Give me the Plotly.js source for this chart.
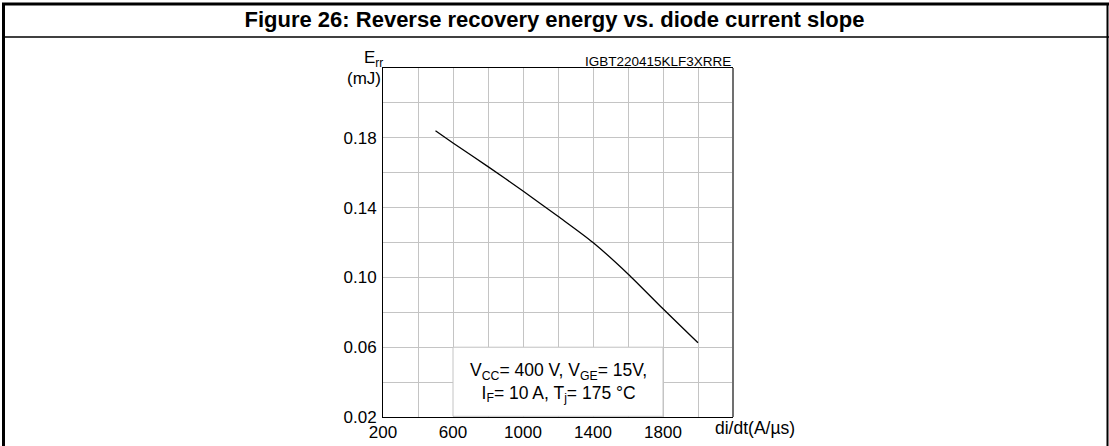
<!DOCTYPE html>
<html>
<head>
<meta charset="utf-8">
<script src="https://cdn.plot.ly/plotly-3.0.1.min.js"></script>
<style>
html,body{margin:0;padding:0;background:#fff;}
#chart{width:1109px;height:446px;}
</style>
</head>
<body>
<div id="chart"></div>
<script>
// Data
const diDt = [500, 600, 800, 1000, 1200, 1400, 1600, 1800, 2000];      // A/µs
const err  = [0.184, 0.177, 0.1635, 0.1495, 0.135, 0.120, 0.102, 0.082, 0.0625]; // mJ

const xTickVals = [200, 400, 600, 800, 1000, 1200, 1400, 1600, 1800, 2000];
const xTickText = ['200', ' ', '600', ' ', '1000', ' ', '1400', ' ', '1800', ' '];
const yTickVals = [0.02, 0.04, 0.06, 0.08, 0.10, 0.12, 0.14, 0.16, 0.18, 0.20];
const yTickText = ['0.02', ' ', '0.06', ' ', '0.10', ' ', '0.14', ' ', '0.18', ' '];

const titleText = 'Figure 26: Reverse recovery energy vs. diode current slope';
const codeText = 'IGBT220415KLF3XRRE';
const condText = 'V<sub>CC</sub>= 400 V, V<sub>GE</sub>= 15V,<br>I<sub>F</sub>= 10 A, T<sub>j</sub>= 175 °C';

const W = 1109, H = 446;
const L = 383, R = 733, T = 68, B = 417;
const px = x => (x - L) / (R - L);
const py = y => (B - y) / (B - T);

const font = 'Arial, "Liberation Sans", sans-serif';
const grid = '#c4c4c4';

const trace = {
  x: diDt, y: err, type: 'scatter', mode: 'lines',
  line: {color: '#000', width: 1.3, shape: 'spline', smoothing: 0.8},
  hoverinfo: 'skip'
};

const layout = {
  width: W, height: H,
  margin: {l: L, r: W - R, t: T, b: H - B, pad: 0},
  paper_bgcolor: '#fff', plot_bgcolor: '#fff',
  showlegend: false,
  font: {family: font, size: 17, color: '#000'},
  title: {
    text: '<b>' + titleText + '</b>',
    font: {family: font, size: 22, color: '#000'},
    x: 0.5, xref: 'container', xanchor: 'center',
    y: 1 - 19 / H, yref: 'container', yanchor: 'middle'
  },
  xaxis: {
    range: [200, 2200], tickmode: 'array', tickvals: xTickVals, ticktext: xTickText,
    showgrid: true, gridcolor: grid, gridwidth: 1, zeroline: false,
    showline: true, linecolor: '#000', linewidth: 1, mirror: true,
    ticks: '', tickfont: {family: font, size: 17, color: '#000'}, fixedrange: true
  },
  yaxis: {
    range: [0.02, 0.22], tickmode: 'array', tickvals: yTickVals, ticktext: yTickText,
    showgrid: true, gridcolor: grid, gridwidth: 1, zeroline: false,
    showline: true, linecolor: '#000', linewidth: 1,
    ticks: '', ticklabelstandoff: 2, tickfont: {family: font, size: 17, color: '#000'}, fixedrange: true
  },
  shapes: [
    {type: 'line', xref: 'paper', yref: 'paper', x0: 1, x1: 1, y0: 0, y1: 1,
     line: {color: '#707070', width: 2}},
    {type: 'rect', xref: 'x', yref: 'y', x0: 600, x1: 1800, y0: 0.0204, y1: 0.06,
     fillcolor: '#fff', line: {color: grid, width: 1}, layer: 'above'},
    {type: 'line', xref: 'paper', yref: 'paper', x0: px(2), x1: px(1109), y0: py(4), y1: py(4),
     line: {color: '#000', width: 3}},
    {type: 'line', xref: 'paper', yref: 'paper', x0: px(3.5), x1: px(3.5), y0: py(3), y1: py(446),
     line: {color: '#000', width: 3}},
    {type: 'line', xref: 'paper', yref: 'paper', x0: px(1107.5), x1: px(1107.5), y0: py(3), y1: py(446),
     line: {color: '#000', width: 2}},
    {type: 'line', xref: 'paper', yref: 'paper', x0: px(3), x1: px(1109), y0: py(37), y1: py(37),
     line: {color: '#000', width: 1.5}}
  ],
  annotations: [
    {text: codeText, xref: 'paper', yref: 'paper', x: 1, y: 1, xanchor: 'right', yanchor: 'bottom',
     showarrow: false, font: {family: font, size: 13.5, color: '#000'}, yshift: -3},
    {text: 'E<sub>rr</sub>', xref: 'paper', yref: 'paper', x: 0, y: 1, xanchor: 'right', yanchor: 'bottom',
     showarrow: false, font: {family: font, size: 17, color: '#000'}, xshift: 2, yshift: -4},
    {text: '(mJ)', xref: 'paper', yref: 'paper', x: 0, y: 1, xanchor: 'right', yanchor: 'top',
     showarrow: false, font: {family: font, size: 17, color: '#000'}, xshift: 0, yshift: 1},
    {text: 'di/dt(A/µs)', xref: 'paper', yref: 'paper', x: px(713), y: 0, xanchor: 'left', yanchor: 'top',
     showarrow: false, font: {family: font, size: 17.5, color: '#000'}, yshift: 1},
    {text: condText, xref: 'x', yref: 'y', x: 1200, y: 0.04, xanchor: 'center', yanchor: 'middle',
     showarrow: false, align: 'center', font: {family: font, size: 17.5, color: '#000'}}
  ]
};

Plotly.newPlot('chart', [trace], layout, {displayModeBar: false, staticPlot: true});
</script>
</body>
</html>
